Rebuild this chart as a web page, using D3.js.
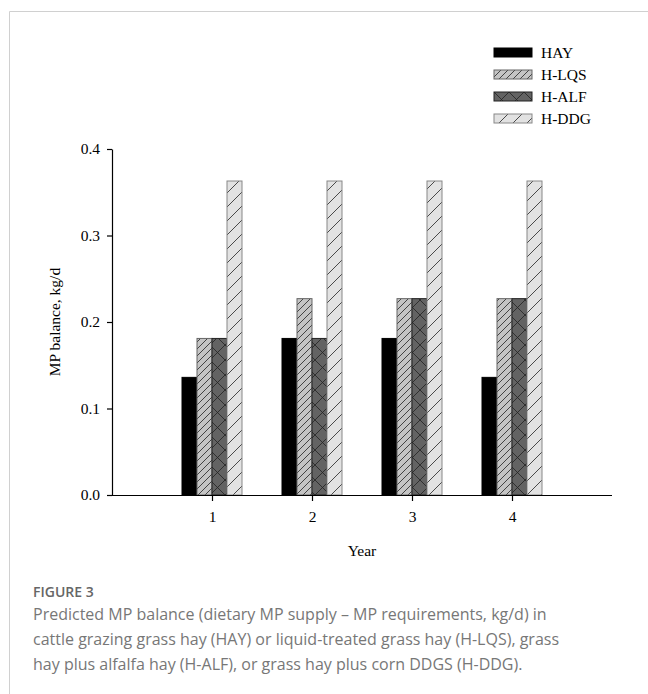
<!DOCTYPE html>
<html>
<head>
<meta charset="utf-8">
<script src="https://cdn.jsdelivr.net/npm/d3@7"></script>
<style>
  body { margin: 0; background: #fff; }
  svg { display: block; }
</style>
</head>
<body>
<script>
var width = 648,
    height = 694;

// data
var years = [1, 2, 3, 4];
var series = ["HAY", "H-LQS", "H-ALF", "H-DDG"];
var hay  = [0.136, 0.181, 0.181, 0.136];
var hlqs = [0.181, 0.227, 0.227, 0.227];
var half = [0.181, 0.181, 0.227, 0.227];
var hddg = [0.363, 0.363, 0.363, 0.363];
var yTicks = [0.0, 0.1, 0.2, 0.3, 0.4];
var captionTitle = "FIGURE 3";
var captionLines = [
  "Predicted MP balance (dietary MP supply \u2013 MP requirements, kg/d) in",
  "cattle grazing grass hay (HAY) or liquid-treated grass hay (H-LQS), grass",
  "hay plus alfalfa hay (H-ALF), or grass hay plus corn DDGS (H-DDG)."
];

var values = [hay, hlqs, half, hddg];
var fills = ["#000", "url(#hLqs)", "url(#hAlf)", "url(#hDdg)"];
var strokes = ["#000", "#666", "#222", "#888"];

var svg = d3.select("body").append("svg")
    .attr("width", width)
    .attr("height", height);

// patterns
var defs = svg.append("defs");
function hatch(id, bg, size, cross) {
  var p = defs.append("pattern")
      .attr("id", id)
      .attr("patternUnits", "userSpaceOnUse")
      .attr("width", size).attr("height", size);
  p.append("rect").attr("width", size).attr("height", size).attr("fill", bg);
  p.append("path")
      .attr("d", "M0," + size + "L" + size + ",0M-1,1L1,-1M" + (size - 1) + "," + (size + 1) + "L" + (size + 1) + "," + (size - 1))
      .attr("stroke", "#222").attr("stroke-width", 0.8);
  if (cross) {
    p.append("path")
        .attr("d", "M0,0L" + size + "," + size)
        .attr("stroke", "#222").attr("stroke-width", 0.8);
  }
}
hatch("hLqs", "#c4c4c4", 7, false);
hatch("hAlf", "#636363", 15, true);
hatch("hDdg", "#e2e2e2", 14, false);

// frame lines of the figure box
svg.append("path")
    .attr("d", "M9.5,694V11.5H648")
    .attr("fill", "none")
    .attr("stroke", "#d0d0d0");

var x = d3.scaleLinear().domain([0, 5]).range([112, 612]);
var y = d3.scaleLinear().domain([0, 0.4]).range([495, 149]);
var barW = 15;

var g = svg.append("g");

// bars
series.forEach(function (s, si) {
  g.append("g").selectAll("rect")
    .data(years)
    .enter().append("rect")
    .attr("x", function (d) { return x(d) - 2 * barW + si * barW; })
    .attr("y", function (d, i) { return y(values[si][i]); })
    .attr("width", barW)
    .attr("height", function (d, i) { return y(0) - y(values[si][i]); })
    .attr("fill", fills[si])
    .attr("stroke", strokes[si])
    .attr("stroke-width", 1);
});

var font = "'Liberation Serif', 'Times New Roman', serif";

// y axis
var yAxis = g.append("g")
    .attr("transform", "translate(112,0)")
    .call(d3.axisLeft(y).tickValues(yTicks).tickFormat(d3.format(".1f")).tickSize(5).tickSizeOuter(0).tickPadding(7));
yAxis.selectAll("text").style("font-family", font).style("font-size", "15.5px").attr("fill", "#000");

// x axis
var xAxis = g.append("g")
    .attr("transform", "translate(0,495)")
    .call(d3.axisBottom(x).tickValues(years).tickFormat(d3.format("d")).tickSize(6).tickSizeOuter(0).tickPadding(10));
xAxis.selectAll("text").style("font-family", font).style("font-size", "15.5px").attr("fill", "#000");
xAxis.select(".domain").attr("d", "M107,0.5H612");
svg.selectAll(".domain, .tick line").attr("stroke", "#000").attr("stroke-width", 1.2);

// axis titles
svg.append("text")
    .attr("x", x(2.5)).attr("y", 556)
    .attr("text-anchor", "middle")
    .style("font-family", font).style("font-size", "15.5px")
    .text("Year");
svg.append("text")
    .attr("transform", "translate(60," + y(0.2) + ") rotate(-90)")
    .attr("text-anchor", "middle")
    .style("font-family", font).style("font-size", "15.5px")
    .text("MP balance, kg/d");

// legend
var leg = svg.append("g").attr("transform", "translate(494,48)");
series.forEach(function (s, i) {
  var row = leg.append("g").attr("transform", "translate(0," + (i * 22) + ")");
  row.append("rect")
      .attr("width", 38).attr("height", 9)
      .attr("fill", fills[i]).attr("stroke", strokes[i]);
  row.append("text")
      .attr("x", 47).attr("y", 9.5)
      .style("font-family", font).style("font-size", "15.5px")
      .text(s);
});

// caption
svg.append("text")
    .attr("x", 33).attr("y", 597)
    .style("font-family", "'Open Sans', sans-serif").style("font-size", "14px")
    .style("font-weight", 600).attr("fill", "#666")
    .text(captionTitle);
svg.selectAll(".cap")
    .data(captionLines)
    .enter().append("text")
    .attr("class", "cap")
    .attr("x", 33)
    .attr("y", function (d, i) { return 620 + i * 25; })
    .style("font-family", "'Open Sans', sans-serif").style("font-size", "16px")
    .attr("fill", "#777")
    .text(function (d) { return d; });
</script>
</body>
</html>
